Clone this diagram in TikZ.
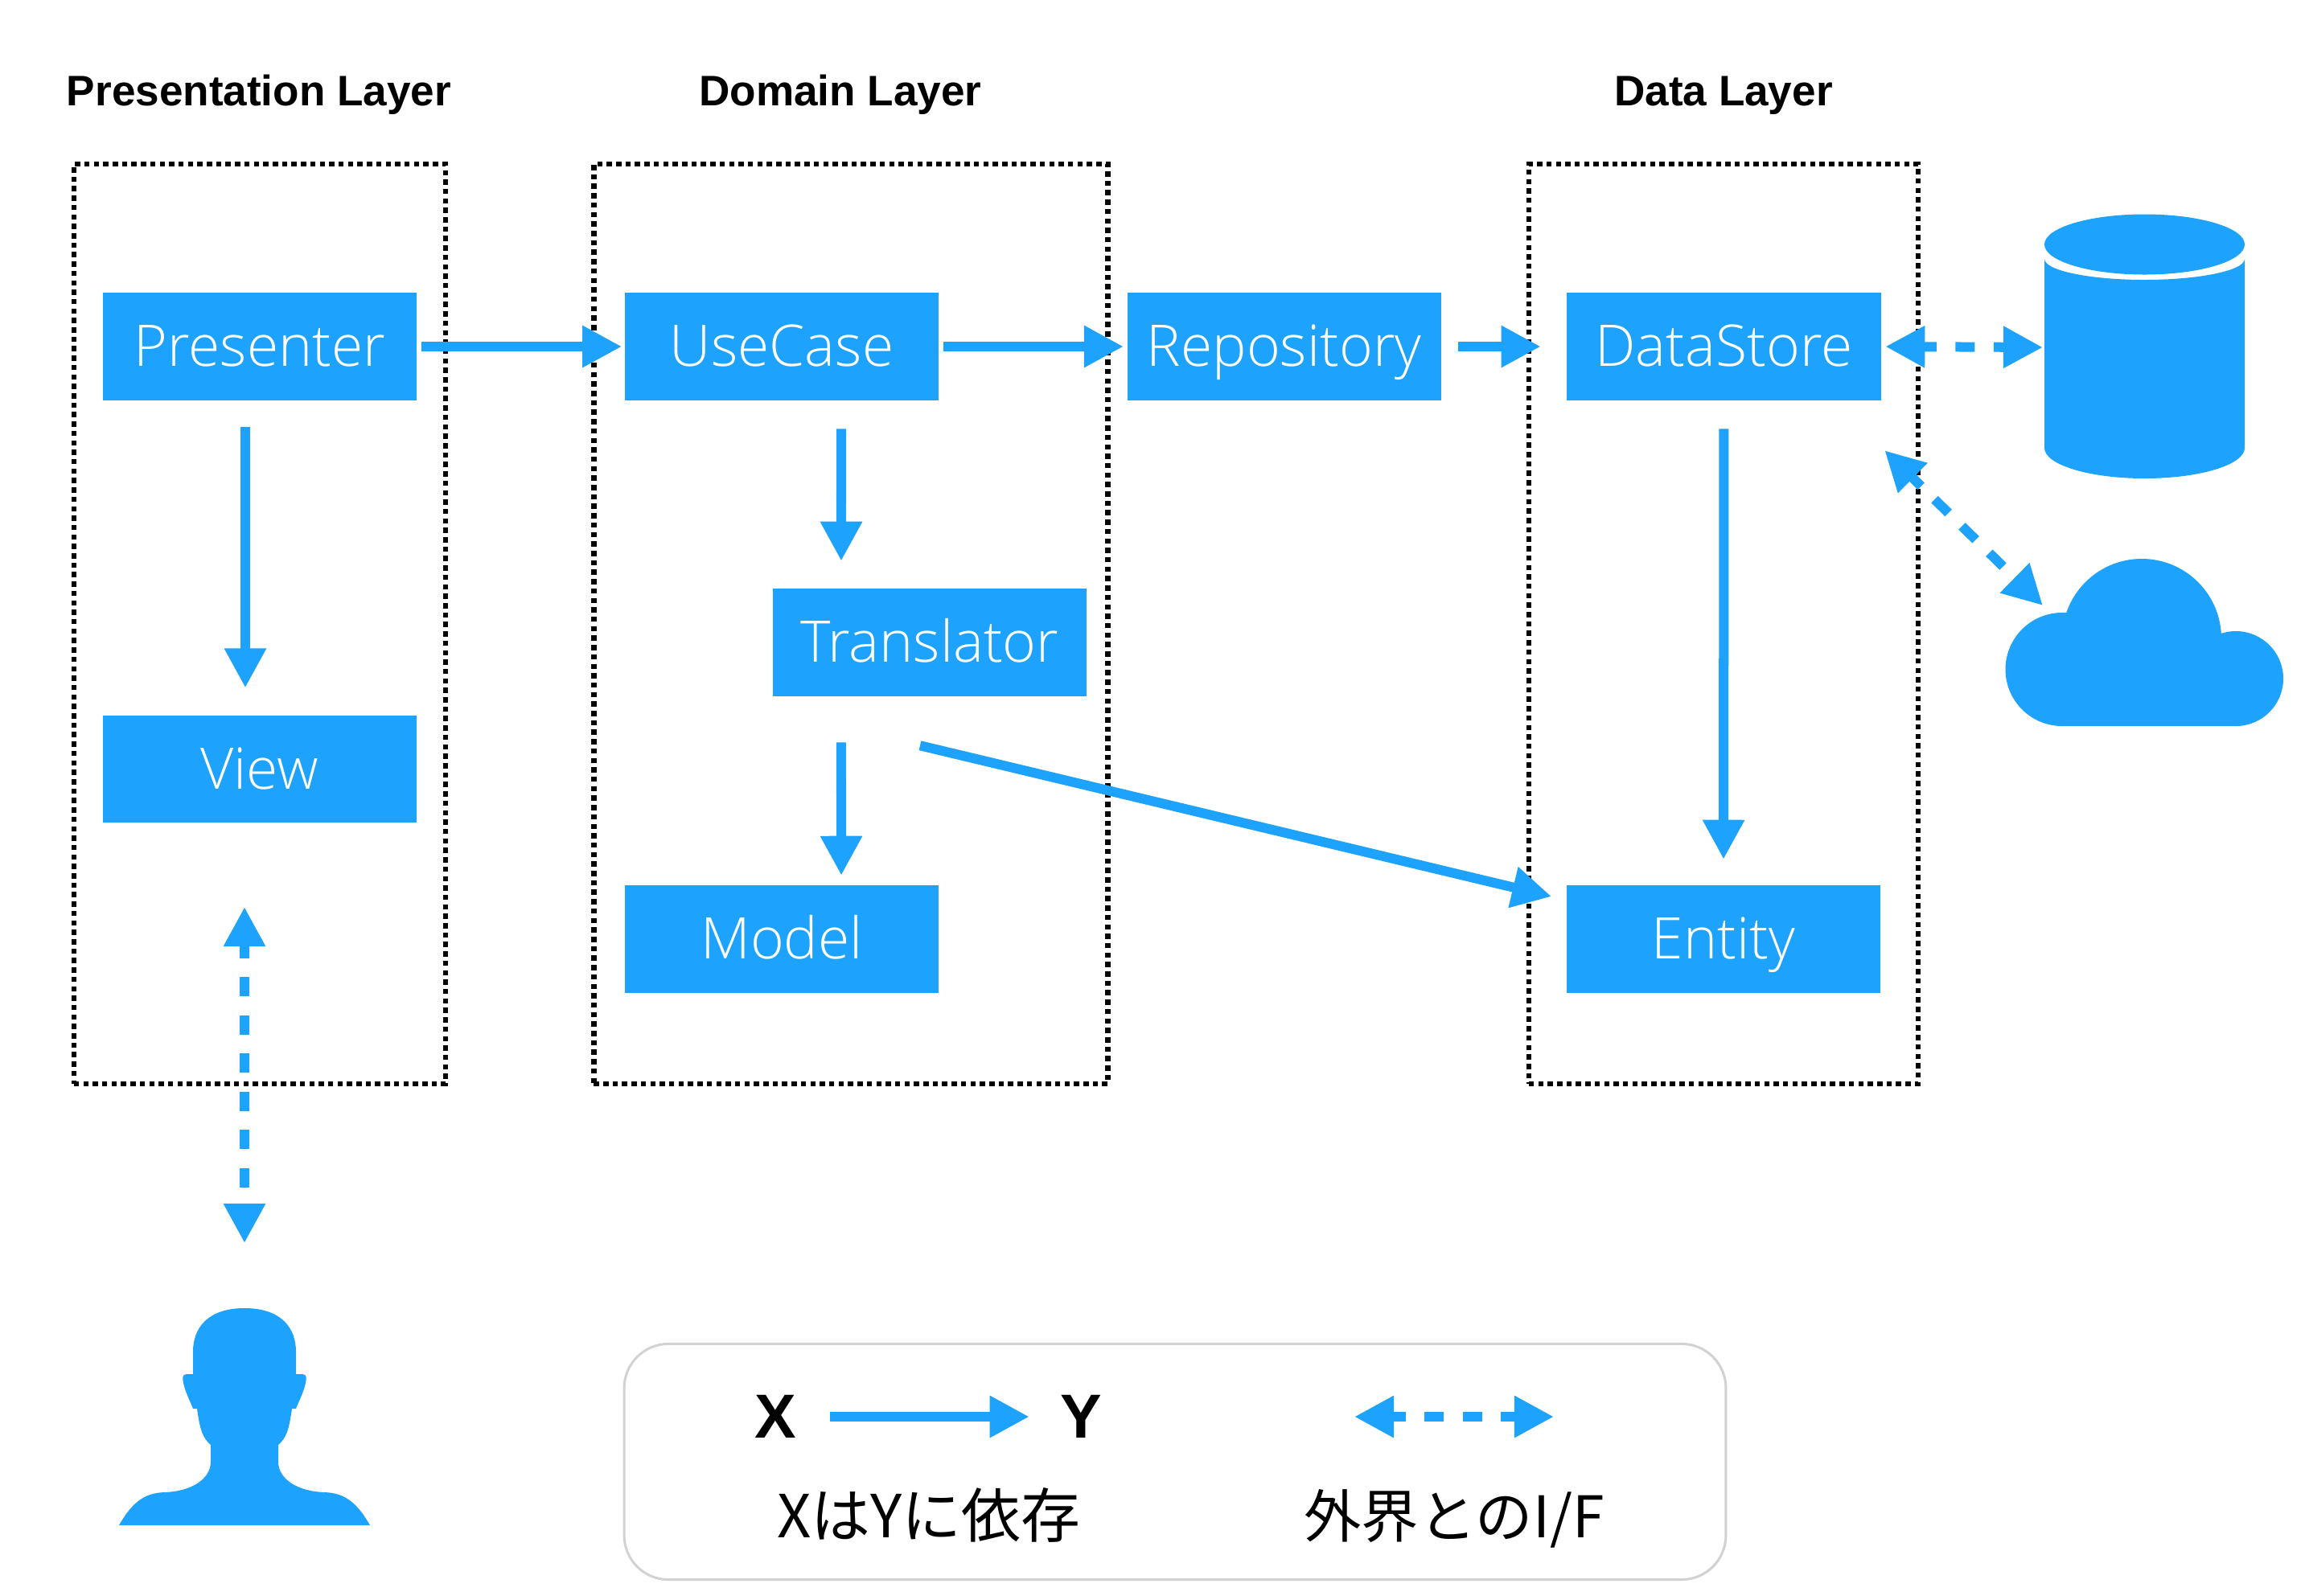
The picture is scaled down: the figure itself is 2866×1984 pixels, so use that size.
\documentclass[tikz,border=0pt]{standalone}
\usepackage{fontspec}
\setmainfont{Open Sans Light}
\newfontfamily\titlefont{Liberation Sans}
\newfontfamily\cjkfont{Noto Sans CJK JP}
\usepackage{xcolor}
\usetikzlibrary{arrows.meta,positioning,calc}
\definecolor{flowblue}{HTML}{1DA2FD}
\definecolor{legendgray}{HTML}{D2D2D2}

\begin{document}
\begin{tikzpicture}[
  x=0.01cm, y=-0.01cm,
  layer/.style={draw=black, line width=0.65mm, dash pattern=on 0.65mm off 0.52mm, minimum height=11.43cm},
  title/.style={font=\titlefont\bfseries\fontsize{15.1}{18}\selectfont, text height=11pt, text depth=3.4pt},
  block/.style={rectangle, fill=flowblue, text=white, font=\fontsize{20.3}{24}\selectfont, text height=16.6pt, text depth=2.5pt, minimum width=3.9cm, minimum height=1.33cm, inner sep=0pt},
  icon/.style={fill=flowblue},
  arrow/.style={-{Triangle[length=4.9mm, width=4.9mm]}, line width=1.2mm, draw=flowblue},
  ifarrow/.style={{Triangle[length=4.9mm, width=4.9mm]}-{Triangle[length=4.9mm, width=4.9mm]}, line width=1.2mm, draw=flowblue, dash pattern=on 2.4mm off 2.35mm, dash phase=0.65mm},
  legendlabel/.style={font=\cjkfont\fontsize{#1}{24}\selectfont, text height=17pt, text depth=3pt}
]
\useasboundingbox (0,0) rectangle (2866,1984);

% layers
\node[layer, minimum width=4.62cm] (presentationlayer) at (323,776) {};
\node[layer, minimum width=6.39cm] (domainlayer) at (1058,776) {};
\node[layer, minimum width=4.84cm] (datalayer) at (2143,776) {};
\node[title] (presentationtitle) at (322,118) {Presentation Layer};
\node[title] (domaintitle) at (1045,118) {Domain Layer};
\node[title] (datatitle) at (2143,118) {Data Layer};

% blocks
\node[block] (presenter) at (323,431) {Presenter};
\node[block, below=3.91cm of presenter] (view) {View};
\node[block] (usecase) at (972,431) {UseCase};
\node[block] (translator) at (1156,799) {Translator};
\node[block] (model) at (972,1168) {Model};
\node[block, right=2.33cm of usecase] (repository) {Repository};
\node[block, right=1.55cm of repository] (datastore) {DataStore};
\node[block] (entity) at (2143,1168) {Entity};

% database
\fill[icon] (2542,322) arc[start angle=180, end angle=0, x radius=124.5, y radius=26] -- (2791,557)
  arc[start angle=0, end angle=180, x radius=124.5, y radius=38] -- cycle;
\fill[icon] (2666.5,304) ellipse[x radius=124.5, y radius=37.5];
\coordinate (database) at (2540,432);

% cloud
\fill[icon] (2564,832.5) circle[radius=70.5];
\fill[icon] (2663,794) circle[radius=99];
\fill[icon] (2780,844) circle[radius=59];
\fill[icon] (2564,837) rectangle (2780,903);
\coordinate (cloud) at (2540,753);

% user
\foreach \side in {1,-1}
  \fill[icon, shift={(304,0)}, xscale=\side] (0,1627) .. controls (-45,1627) and (-64,1651) .. (-64,1681)
    -- (-64,1709) -- (-72,1709) .. controls (-78,1709) and (-77,1715) .. (-76,1720)
    .. controls (-74,1730) and (-68,1742) .. (-64,1752) -- (-59,1752)
    .. controls (-55,1780) and (-52,1788) .. (-42,1797) -- (-42,1818)
    .. controls (-42,1839) and (-65,1855) .. (-100,1856) .. controls (-125,1857) and (-140,1869) .. (-156,1897)
    -- (0,1897) -- cycle;
\coordinate (user) at (304,1546);

% dependencies
\draw[arrow, shorten <=0.5mm, shorten >=0.3mm] (presenter) -- (usecase);
\draw[arrow, shorten <=0.5mm, shorten >=0.4mm] (usecase) -- (repository);
\draw[arrow, shorten <=2mm, shorten >=3.2mm] (repository) -- (datastore);
\draw[arrow, shorten <=3.3mm, shorten >=3.4mm] ([xshift=-1.8mm]presenter.south) -- ([xshift=-1.8mm]view.north);
\draw[arrow, shorten <=3.5mm, shorten >=3.4mm] ([xshift=0.74cm]usecase.south) -- ([xshift=-1.1cm]translator.north);
\draw[arrow, shorten <=5.7mm, shorten >=1.2mm] ([xshift=-1.1cm]translator.south) -- ([xshift=0.74cm]model.north);
\draw[arrow, shorten <=3.5mm, shorten >=3.2mm] (datastore.south) -- (entity.north);
\draw[arrow] ([shift={(-12,61)}]translator.south) -- ([shift={(-18,-53)}]entity.west);

% interfaces
\draw[ifarrow, shorten <=0.5mm] (datastore.east) -- (database);
\draw[ifarrow] ([shift={(4,62)}]datastore.south east) -- (cloud);
\draw[ifarrow, shorten <=1.04cm] (view.south -| user) -- (user);

% legend
\node[draw=legendgray, line width=0.3mm, rounded corners=0.55cm, minimum width=13.69cm, minimum height=2.93cm] (legend) at (1461,1818) {};
\node[font=\titlefont\bfseries\fontsize{22}{26}\selectfont] (legendx) at (964,1762) {X};
\node[font=\titlefont\bfseries\fontsize{22}{26}\selectfont] (legendy) at (1344,1762) {Y};
\coordinate (legendifleft) at (1684,1762);
\coordinate (legendifright) at (1932,1762);
\draw[arrow, shorten <=3mm, shorten >=2.6mm] (legendx) -- (legendy);
\draw[ifarrow] (legendifleft) -- (legendifright);
\node[legendlabel=21] (legenddep) at (1155,1888) {XはYに依存};
\node[legendlabel=20.3] (legendif) at (1808,1888) {外界とのI/F};
\end{tikzpicture}
\end{document}
